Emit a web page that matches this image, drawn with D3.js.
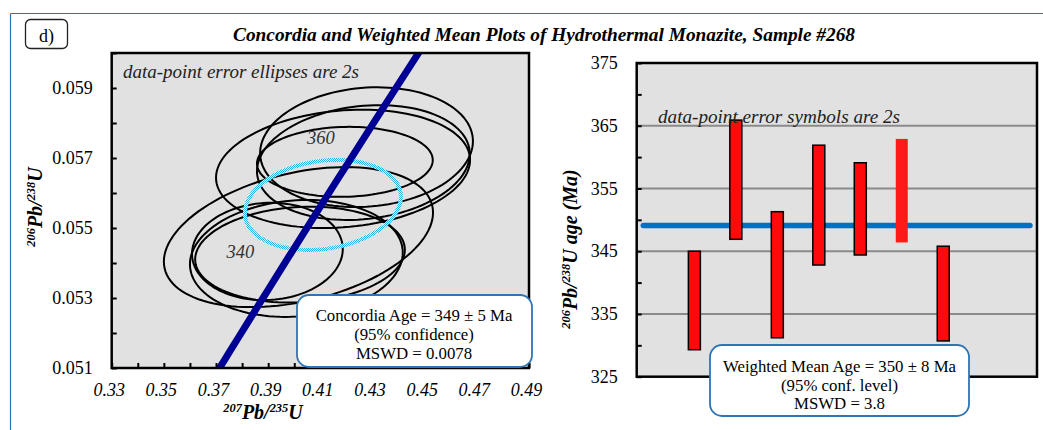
<!DOCTYPE html>
<html><head><meta charset="utf-8">
<script src="https://cdn.jsdelivr.net/npm/d3@7"></script>
<style>
html,body{margin:0;padding:0;background:#fff;}
svg{display:block;}
text{font-family:"Liberation Serif","Times New Roman",Times,serif;}
</style></head>
<body>
<div id="chart"></div>
<script>
// ---------- data ----------
const title = "Concordia and Weighted Mean Plots of Hydrothermal Monazite, Sample #268";
const panelLabel = "d)";
// Concordia panel
const xTickLabels = [0.33,0.35,0.37,0.39,0.41,0.43,0.45,0.47,0.49];
const xMinorTicks = [0.33,0.34,0.35,0.36,0.37,0.38,0.39,0.40,0.41,0.42,0.43,0.44,0.45,0.46,0.47,0.48,0.49];
const yTickLabels = [0.051,0.053,0.055,0.057,0.059];
const yMinorTicks = [0.051,0.052,0.053,0.054,0.055,0.056,0.057,0.058,0.059,0.060];
// error ellipses: centre 207Pb/235U, centre 206Pb/238U, 2s on x, 2s on y, correlation
const ellX   = [0.4277, 0.4265, 0.4187, 0.4194, 0.4016, 0.3897, 0.4008, 0.4022];
const ellY   = [0.05731,0.05687,0.05669,0.05689,0.05474,0.05433,0.05413,0.05424];
const ellSX  = [0.0408, 0.0408, 0.0487, 0.0337, 0.0516, 0.0289, 0.0408, 0.0402];
const ellSY  = [0.00171,0.00164,0.00169,0.00100,0.00200,0.00139,0.00167,0.00137];
const ellRho = [0.10, 0.15, 0.15, 0.05, 0.35, 0.05, 0.10, 0.10];
// concordia-age ellipse
const concAge = {x:0.41098, y:0.05566, sx:0.0299, sy:0.001286, rho:0.18};
// concordia curve ages (Ma) and labelled ages
const concordiaAges = d3.range(310, 391, 2);
const ageMarks = [340, 360];
const ageLabelDx = [-48, -40];
const lambda238 = 1.55125e-10, lambda235 = 9.8485e-10;
const concText = ["Concordia Age = 349 \u00b1 5 Ma","(95% confidence)","MSWD = 0.0078"];
// Weighted mean panel
const wmTickLabels = [325,335,345,355,365,375];
const wmMinorTicks = [325,330,335,340,345,350,355,360,365,370,375];
const wmGrid = [335,345,355,365];
const spotIndex = [1,2,3,4,5,6,7];
const spotLow  = [329.3, 346.9, 331.2, 342.8, 344.4, 346.4, 330.7];
const spotHigh = [345.0, 365.9, 351.3, 361.9, 359.1, 362.9, 345.8];
const spotRejected = [false,false,false,false,false,true,false];
const meanAge = 349.1;
const meanSpan = [-0.23, 9.09];
const wmText = ["Weighted Mean Age = 350 \u00b1 8 Ma","(95% conf. level)","MSWD = 3.8"];

// ---------- drawing ----------
const W = 1043, H = 430;
const svg = d3.select("#chart").append("svg").attr("width",W).attr("height",H);
const defs = svg.append("defs");
const pat = defs.append("pattern").attr("id","checker").attr("patternUnits","userSpaceOnUse")
  .attr("width",2).attr("height",2);
pat.append("rect").attr("width",2).attr("height",2).attr("fill","#ffffff");
pat.append("rect").attr("width",1).attr("height",1).attr("fill","#1cb4ec");
pat.append("rect").attr("x",1).attr("y",1).attr("width",1).attr("height",1).attr("fill","#1cb4ec");

// outer frame lines
svg.append("line").attr("x1",10.5).attr("x2",W).attr("y1",13.5).attr("y2",13.5).attr("stroke","#2E75B6").attr("stroke-width",1.2);
svg.append("line").attr("x1",10.5).attr("x2",10.5).attr("y1",13.5).attr("y2",H).attr("stroke","#2E75B6").attr("stroke-width",1.2);

// panel label
svg.append("rect").attr("x",25.5).attr("y",19.5).attr("width",42).attr("height",29).attr("rx",5)
  .attr("fill","#fff").attr("stroke","#222").attr("stroke-width",1.3);
svg.append("text").attr("x",46.5).attr("y",42).attr("text-anchor","middle").attr("font-size",18).text(panelLabel);

// title
svg.append("text").attr("x",233).attr("y",41)
  .attr("font-size",18.5).attr("font-weight","bold").attr("font-style","italic")
  .attr("textLength",622).attr("lengthAdjust","spacingAndGlyphs").text(title);

// ===== Left: concordia =====
const x = d3.scaleLinear().domain([0.33,0.49]).range([111.7,529]);
const y = d3.scaleLinear().domain([0.051,0.060]).range([368,53]);
const L = svg.append("g");
defs.append("clipPath").attr("id","clipL").append("rect")
  .attr("x",x.range()[0]).attr("y",y.range()[1]).attr("width",x.range()[1]-x.range()[0]).attr("height",y.range()[0]-y.range()[1]);
L.append("rect").attr("x",x.range()[0]).attr("y",y.range()[1]).attr("width",x.range()[1]-x.range()[0])
  .attr("height",y.range()[0]-y.range()[1]).attr("fill","#e1e1e1");

const plotArea = L.append("g").attr("clip-path","url(#clipL)");
function ellipsePts(cx,cy,sx,sy,rho){
  const k = Math.sqrt(1-rho*rho);
  return d3.range(0,120).map(i=>{const t=i/120*2*Math.PI;
    return [cx+sx*Math.cos(t), cy+sy*(rho*Math.cos(t)+k*Math.sin(t))];});
}
const eLine = d3.line().x(d=>x(d[0])).y(d=>y(d[1])).curve(d3.curveLinearClosed);
plotArea.selectAll("path.ell").data(ellX.map((v,i)=>ellipsePts(v,ellY[i],ellSX[i],ellSY[i],ellRho[i])))
  .join("path").attr("class","ell").attr("d",eLine).attr("fill","none").attr("stroke","#000").attr("stroke-width",2);
plotArea.append("path").attr("d",eLine(ellipsePts(concAge.x,concAge.y,concAge.sx,concAge.sy,concAge.rho)))
  .attr("fill","none").attr("stroke","url(#checker)").attr("stroke-width",4);
const conc = concordiaAges.map(t=>[Math.exp(lambda235*t*1e6)-1, Math.exp(lambda238*t*1e6)-1]);
plotArea.append("path").attr("d",d3.line().x(d=>x(d[0])).y(d=>y(d[1]))(conc))
  .attr("fill","none").attr("stroke","#000095").attr("stroke-width",7);
// age labels
L.selectAll("text.age").data(ageMarks).join("text").attr("class","age")
  .attr("x",(t,i)=>x(Math.exp(lambda235*t*1e6)-1)+ageLabelDx[i]).attr("y",t=>y(Math.exp(lambda238*t*1e6)-1)+1)
  .attr("text-anchor","middle").attr("font-size",18.5).attr("font-style","italic").attr("fill","#333").text(t=>t);

L.append("text").attr("x",123).attr("y",78).attr("font-size",19).attr("font-style","italic").attr("fill","#222")
  .attr("textLength",236).attr("lengthAdjust","spacingAndGlyphs")
  .text("data-point error ellipses are 2s");

// axes
const fmt3 = d3.format(".3f"), fmt2 = d3.format(".2f");
const yAx = L.append("g").attr("transform",`translate(${x.range()[0]},0)`)
  .call(d3.axisLeft(y).tickValues(yMinorTicks).tickSize(-5).tickPadding(19)
    .tickFormat(d=>yTickLabels.some(v=>Math.abs(v-d)<1e-9)?fmt3(d):""));
const xAx = L.append("g").attr("transform",`translate(0,${y.range()[0]})`)
  .call(d3.axisBottom(x).tickValues(xMinorTicks).tickSize(-5).tickPadding(15)
    .tickFormat(d=>xTickLabels.some(v=>Math.abs(v-d)<1e-9)?fmt2(d):""));
[yAx,xAx].forEach(a=>{a.select(".domain").remove();
  a.selectAll(".tick line").attr("stroke","#000").attr("stroke-width",2);
  a.selectAll(".tick text").attr("font-size",18).attr("fill","#000")
   .style("font-family",'"Liberation Serif","Times New Roman",serif');});
xAx.selectAll(".tick text").attr("font-style","italic").attr("dx",-3);
L.append("rect").attr("x",x.range()[0]).attr("y",y.range()[1]).attr("width",x.range()[1]-x.range()[0])
  .attr("height",y.range()[0]-y.range()[1]).attr("fill","none").attr("stroke","#000").attr("stroke-width",2.5);

// axis titles
function supTitle(g, parts, size){
  const t = g.append("text").attr("font-weight","bold").attr("font-style","italic").attr("font-size",size);
  parts.forEach(p=>{
    const ts = t.append("tspan").text(p.t);
    if(p.sup) ts.attr("font-size",size*0.62).attr("baseline-shift","super");
  });
  return t;
}
supTitle(L,[{t:"207",sup:1},{t:"Pb/"},{t:"235",sup:1},{t:"U"}],20)
  .attr("x",263).attr("y",419).attr("text-anchor","middle");
supTitle(L,[{t:"206",sup:1},{t:"Pb/"},{t:"238",sup:1},{t:"U"}],20)
  .attr("text-anchor","middle").attr("transform","translate(42,207) rotate(-90)");

// concordia box
L.append("rect").attr("x",297).attr("y",295).attr("width",235).attr("height",72).attr("rx",12)
  .attr("fill","#fff").attr("stroke","#2E75B6").attr("stroke-width",1.8);
L.selectAll("text.cbox").data(concText).join("text").attr("class","cbox")
  .attr("x",414).attr("y",(d,i)=>321+i*19).attr("text-anchor","middle").attr("font-size",16.8).text(d=>d);

// ===== Right: weighted mean =====
const xr = d3.scaleLinear().domain([-0.39,9.26]).range([636.7,1037]);
const yr = d3.scaleLinear().domain([325,375]).range([376.7,63]);
const R = svg.append("g");
R.append("rect").attr("x",xr.range()[0]).attr("y",yr.range()[1]).attr("width",xr.range()[1]-xr.range()[0])
  .attr("height",yr.range()[0]-yr.range()[1]).attr("fill","#e1e1e1");
R.selectAll("line.grid").data(wmGrid).join("line").attr("class","grid")
  .attr("x1",xr.range()[0]).attr("x2",xr.range()[1]).attr("y1",d=>yr(d)).attr("y2",d=>yr(d))
  .attr("stroke","#8a8a8a").attr("stroke-width",2);
R.append("line").attr("x1",xr(meanSpan[0])).attr("x2",xr(meanSpan[1])).attr("y1",yr(meanAge)).attr("y2",yr(meanAge))
  .attr("stroke","#0070C0").attr("stroke-width",5.5).attr("stroke-linecap","round");
const bw = 12;
R.selectAll("rect.bar").data(spotIndex).join("rect").attr("class","bar")
  .attr("x",(d)=>xr(d)-bw/2).attr("width",bw)
  .attr("y",(d,i)=>yr(spotHigh[i])).attr("height",(d,i)=>yr(spotLow[i])-yr(spotHigh[i]))
  .attr("fill",(d,i)=>spotRejected[i]?"#ff1a1a":"#ff0a0a")
  .attr("stroke",(d,i)=>spotRejected[i]?"none":"#000").attr("stroke-width",1.5);
R.append("text").attr("x",658).attr("y",123).attr("font-size",19).attr("font-style","italic").attr("fill","#222")
  .attr("textLength",242).attr("lengthAdjust","spacingAndGlyphs")
  .text("data-point error symbols are 2s");
const yrAx = R.append("g").attr("transform",`translate(${xr.range()[0]},0)`)
  .call(d3.axisLeft(yr).tickValues(wmMinorTicks).tickSize(-5).tickPadding(19)
    .tickFormat(d=>wmTickLabels.includes(d)?d3.format("d")(d):""));
yrAx.select(".domain").remove();
yrAx.selectAll(".tick line").attr("stroke","#000").attr("stroke-width",2);
yrAx.selectAll(".tick text").attr("font-size",18).attr("fill","#000")
  .style("font-family",'"Liberation Serif","Times New Roman",serif');
R.append("rect").attr("x",xr.range()[0]).attr("y",yr.range()[1]).attr("width",xr.range()[1]-xr.range()[0])
  .attr("height",yr.range()[0]-yr.range()[1]).attr("fill","none").attr("stroke","#000").attr("stroke-width",2.5);
supTitle(R,[{t:"206",sup:1},{t:"Pb/"},{t:"238",sup:1},{t:"U age (Ma)"}],20)
  .attr("text-anchor","middle").attr("transform","translate(577,249) rotate(-90)");
R.append("rect").attr("x",710).attr("y",345).attr("width",259).attr("height",71).attr("rx",12)
  .attr("fill","#fff").attr("stroke","#2E75B6").attr("stroke-width",1.8);
R.selectAll("text.wbox").data(wmText).join("text").attr("class","wbox")
  .attr("x",839.5).attr("y",(d,i)=>372+i*18.5).attr("text-anchor","middle").attr("font-size",16.8).text(d=>d);
</script>
</body></html>
